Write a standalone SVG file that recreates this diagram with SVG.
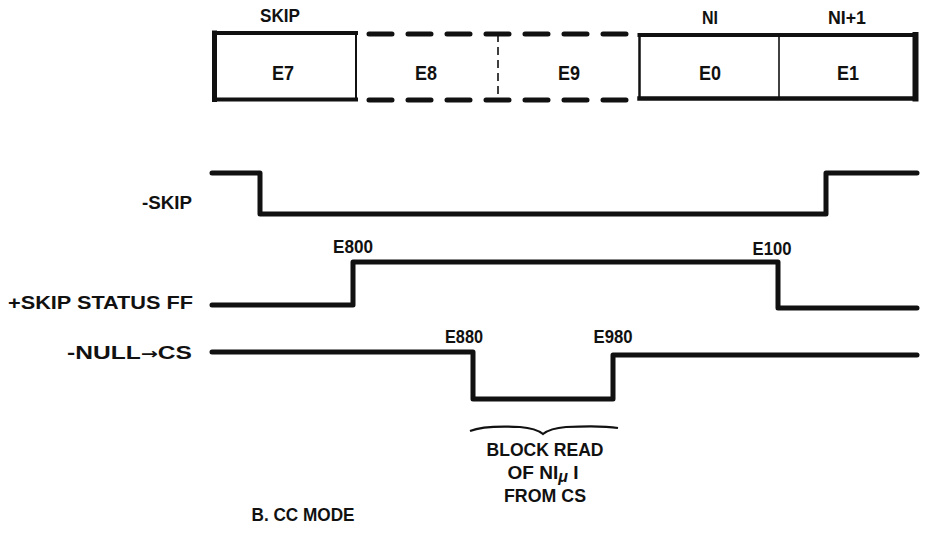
<svg xmlns="http://www.w3.org/2000/svg" width="925" height="555" viewBox="0 0 925 555">
<style>
text{font-family:"Liberation Sans",Arial,sans-serif;font-weight:bold;fill:#111;text-anchor:middle}
.box{font-size:21px}
.top{font-size:18px}
.sig{font-size:18px;text-anchor:end}
.ev{font-size:18px}
.blk{font-size:19px}
.wave{fill:none;stroke:#111;stroke-width:5;stroke-linejoin:round;stroke-linecap:round}
.edge{stroke:#111;fill:none;stroke-linecap:square}
.dash{stroke:#111;stroke-width:5;stroke-linecap:round;stroke-dasharray:23 16;fill:none}
</style>
<rect width="925" height="555" fill="#fff"/>
<g id="boxE7">
<line class="edge" x1="214.5" y1="33" x2="214.5" y2="99.5" stroke-width="5"/>
<line class="edge" x1="214.5" y1="33" x2="356" y2="33" stroke-width="4"/>
<line class="edge" x1="214.5" y1="99.5" x2="356" y2="99.5" stroke-width="4"/>
<line class="edge" x1="356" y1="33" x2="356" y2="99.5" stroke-width="2"/>
<text class="top" x="280" y="22" textLength="40" lengthAdjust="spacingAndGlyphs">SKIP</text>
<text class="box" x="283" y="80" textLength="22" lengthAdjust="spacingAndGlyphs">E7</text>
</g>
<g id="boxE8E9">
<line class="dash" x1="369" y1="34" x2="626" y2="34"/>
<line class="dash" x1="369" y1="100" x2="626" y2="100"/>
<line x1="498" y1="34" x2="498" y2="100" stroke="#111" stroke-width="1.6" stroke-dasharray="8 5"/>
<text class="box" x="426" y="80" textLength="22" lengthAdjust="spacingAndGlyphs">E8</text>
<text class="box" x="569" y="80" textLength="22" lengthAdjust="spacingAndGlyphs">E9</text>
</g>
<g id="boxE0E1">
<line class="edge" x1="639.5" y1="35" x2="639.5" y2="98.5" stroke-width="2.5"/>
<line class="edge" x1="639.5" y1="35" x2="915.5" y2="35" stroke-width="4"/>
<line class="edge" x1="639.5" y1="98.5" x2="915.5" y2="98.5" stroke-width="4.5"/>
<line class="edge" x1="915.5" y1="35" x2="915.5" y2="98.5" stroke-width="6"/>
<line x1="779" y1="35" x2="779" y2="98.5" stroke="#111" stroke-width="1.6"/>
<text class="top" x="710" y="24" textLength="16" lengthAdjust="spacingAndGlyphs">NI</text>
<text class="top" x="847" y="24" textLength="38" lengthAdjust="spacingAndGlyphs">NI+1</text>
<text class="box" x="710" y="80" textLength="22" lengthAdjust="spacingAndGlyphs">E0</text>
<text class="box" x="848" y="80" textLength="22" lengthAdjust="spacingAndGlyphs">E1</text>
</g>
<g id="connectors">
<path class="wave" d="M212,173 H260 V214 H826 V173 H917"/>
<path class="wave" d="M212,305 H353 V262 H778 V308 H917"/>
<path class="wave" d="M212,352 H473 V399 H613 V355 H917"/>
<path d="M470,431 C480,427 500,426 520,427 C532,428 538,430 543,434 C548,430 554,428 566,427 C586,426 606,426 618,428" fill="none" stroke="#111" stroke-width="2.2"/>
</g>
<g id="labels">
<text class="sig" x="192" y="209" textLength="50" lengthAdjust="spacingAndGlyphs">-SKIP</text>
<text class="sig" x="193" y="309" textLength="185" lengthAdjust="spacingAndGlyphs">+SKIP STATUS FF</text>
<text class="sig" x="192" y="359" textLength="125" lengthAdjust="spacingAndGlyphs">-NULL<tspan font-family="'DejaVu Sans',sans-serif" font-size="15">→</tspan>CS</text>
<text class="ev" x="353" y="253" textLength="40" lengthAdjust="spacingAndGlyphs">E800</text>
<text class="ev" x="772" y="255" textLength="39" lengthAdjust="spacingAndGlyphs">E100</text>
<text class="ev" x="464" y="343" textLength="38" lengthAdjust="spacingAndGlyphs">E880</text>
<text class="ev" x="613" y="343" textLength="39" lengthAdjust="spacingAndGlyphs">E980</text>
<text class="blk" x="545" y="456" textLength="117" lengthAdjust="spacingAndGlyphs">BLOCK READ</text>
<text class="blk" x="543" y="479">OF NI<tspan font-size="16" font-style="italic" dy="3">μ</tspan><tspan dy="-3"> I</tspan></text>
<text class="blk" x="545" y="502" textLength="82" lengthAdjust="spacingAndGlyphs">FROM CS</text>
<text class="top" x="303" y="521" textLength="103" lengthAdjust="spacingAndGlyphs">B. CC MODE</text>
</g>
</svg>
